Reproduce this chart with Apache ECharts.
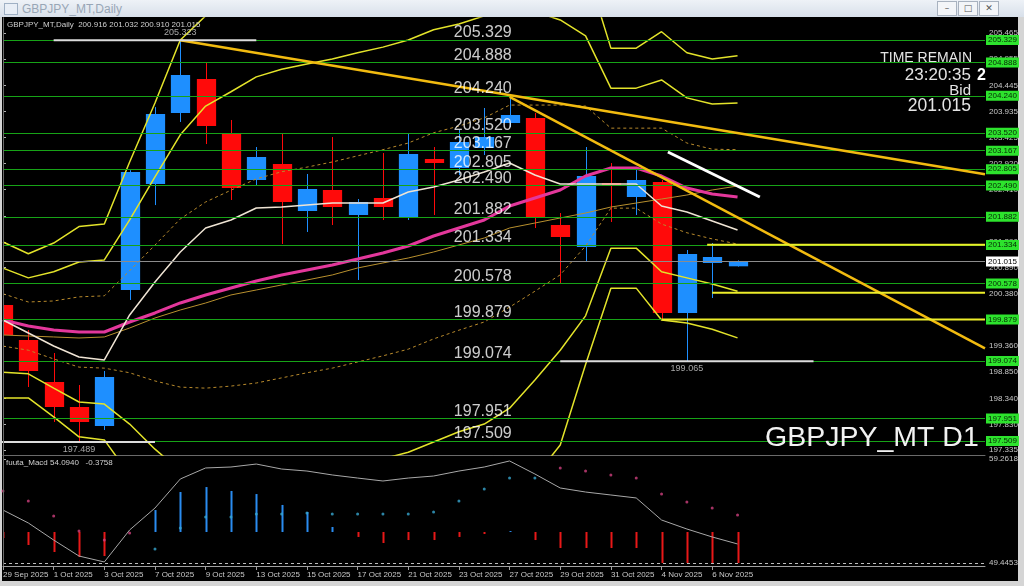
<!DOCTYPE html>
<html><head><meta charset="utf-8">
<script src="https://cdn.jsdelivr.net/npm/echarts@6/dist/echarts.min.js"></script>
<style>
html,body{margin:0;padding:0;background:#d5d5d5;overflow:hidden;width:1024px;height:586px}
#bar{position:absolute;left:0;top:0;width:1024px;height:17px;background:linear-gradient(#eef2f7,#d8e0ea);}
#bar span{position:absolute;left:22px;top:2px;font:12px 'Liberation Sans',Arial,sans-serif;color:#98a6b6}
#ico{position:absolute;left:4px;top:3px;width:12px;height:10px;border:1px solid #9fb0c4;background:#e8eef6}
.btn{position:absolute;top:1px;width:18px;height:13px;border:1px solid #a8b2bf;background:#f3f5f8;font:9px 'DejaVu Sans',sans-serif;color:#555;text-align:center;line-height:13px}
#blk{position:absolute;left:2px;top:17px;width:1016px;height:564px;background:#000}
#c{position:absolute;left:0;top:0;width:1024px;height:586px}
</style>
</head><body>
<div id="bar"><div id="ico"></div><span>GBPJPY_MT,Daily</span>
<div class="btn" style="left:937px">&#8211;</div><div class="btn" style="left:958px">&#9633;</div><div class="btn" style="left:979px">&#10005;</div></div>
<div id="blk"></div>
<div id="c"></div>
<script>
// ---------------- data ----------------
const dates = ['29 Sep 2025','30 Sep 2025','1 Oct 2025','2 Oct 2025','3 Oct 2025','6 Oct 2025','7 Oct 2025','8 Oct 2025','9 Oct 2025','10 Oct 2025','13 Oct 2025','14 Oct 2025','15 Oct 2025','16 Oct 2025','17 Oct 2025','20 Oct 2025','21 Oct 2025','22 Oct 2025','23 Oct 2025','24 Oct 2025','27 Oct 2025','28 Oct 2025','29 Oct 2025','30 Oct 2025','31 Oct 2025','3 Nov 2025','4 Nov 2025','5 Nov 2025','6 Nov 2025','7 Nov 2025'];
const openP  = [200.161,199.479,198.660,198.172,197.802,200.454,202.521,203.905,204.568,203.515,202.599,202.911,201.994,202.404,201.916,202.248,201.877,203.008,202.833,203.223,203.710,203.808,201.721,201.292,202.540,202.267,202.560,200.005,200.980,200.916];
const highP  = [200.454,199.674,199.225,198.601,198.874,202.790,204.020,205.323,204.880,203.769,203.242,203.496,202.716,203.437,202.228,203.125,203.515,203.242,203.574,204.003,204.198,203.905,201.955,203.242,202.930,202.794,202.599,201.234,201.370,201.032];
const lowP   = [199.340,198.562,197.880,197.489,197.724,200.259,202.110,203.730,203.300,202.209,202.482,201.351,201.585,201.721,200.649,201.819,201.819,201.916,202.696,203.086,203.632,201.663,200.590,201.000,201.780,201.916,199.888,199.065,200.298,200.910];
const closeP = [199.576,198.874,198.172,197.880,198.757,202.755,203.886,204.646,203.652,202.443,203.047,202.170,202.423,202.072,202.170,202.072,203.106,202.930,203.340,203.437,203.866,201.877,201.487,202.677,202.482,202.599,200.005,201.156,201.097,201.015];

const maMid   = [199.869,199.752,199.674,199.635,199.635,199.830,200.006,200.201,200.356,200.493,200.630,200.746,200.844,200.942,201.058,201.176,201.312,201.507,201.663,201.819,202.092,202.248,202.404,202.677,202.833,202.833,202.677,202.443,202.326,202.268];
const maFast  = [199.869,199.616,199.362,199.148,199.089,199.967,200.610,201.195,201.663,201.819,202.053,202.073,202.112,202.151,202.151,202.151,202.365,202.463,202.599,202.755,202.931,202.697,202.521,202.521,202.521,202.521,202.092,201.975,201.800,201.624];
const maSlow  = [199.576,199.557,199.538,199.518,199.538,199.713,199.908,200.064,200.200,200.357,200.454,200.552,200.649,200.747,200.883,200.981,201.078,201.195,201.332,201.468,201.663,201.760,201.858,201.955,202.072,202.150,202.228,202.306,202.404,202.482];
const bandUp1 = [200.38,200.22,200.24,200.32,200.34,200.83,201.33,201.84,202.17,202.40,202.62,202.76,202.85,202.95,203.07,203.19,203.32,203.52,203.65,203.81,204.06,204.06,204.06,204.04,203.61,203.61,203.61,203.32,203.20,203.19];
const bandDn1 = [199.36,199.28,199.11,198.95,198.93,198.84,198.68,198.56,198.54,198.58,198.64,198.74,198.84,198.93,199.05,199.17,199.30,199.50,199.67,199.83,200.12,200.43,200.75,201.31,202.05,202.05,201.74,201.57,201.45,201.35];
const bandUp2 = [200.88,200.69,200.81,201.00,201.04,201.82,202.66,203.48,204.04,204.32,204.61,204.76,204.86,204.96,205.08,205.19,205.33,205.53,205.64,205.80,206.03,205.88,205.72,205.41,204.39,204.39,204.55,204.20,204.08,204.10];
const bandDn2 = [198.85,198.82,198.54,198.27,198.23,197.84,197.35,196.93,196.73,196.67,196.65,196.73,196.83,196.92,197.04,197.16,197.29,197.49,197.69,197.84,198.15,198.70,199.28,199.95,201.27,201.27,200.81,200.69,200.57,200.43];
const bandUp3 = [201.39,201.16,201.37,201.69,201.74,202.95,204.10,205.33,205.80,206.23,206.60,206.77,206.87,206.97,207.08,207.20,207.34,207.53,207.63,207.79,208.00,207.69,207.38,206.77,205.17,205.17,205.49,205.08,204.96,205.02];
const bandDn3 = [198.35,198.35,197.98,197.59,197.53,196.85,196.03,195.29,194.91,194.76,194.66,194.72,194.82,194.92,195.03,195.15,195.29,195.48,195.70,195.85,196.18,196.81,197.43,199.00,200.49,200.49,199.87,199.81,199.69,199.52];

const levels = [205.329,204.888,204.240,203.520,203.167,202.805,202.490,201.882,201.334,200.578,199.879,199.074,197.951,197.509];
const bid = 201.015;
const priceTicks = [205.465,204.955,204.445,203.935,203.425,202.920,202.410,201.900,201.390,200.890,200.380,199.870,199.360,198.850,198.340,197.830,197.335];

// extreme markers: [price, fromIdx, toIdx, labelIdx, side]
const extremes = [[205.323,2,10,7,'top'],[197.489,-2,6,3,'bottom'],[199.065,22,32,27,'bottom']];
// trend lines: [[idx,price],[idx,price]]
const trend1 = [[7,205.323],[38.77,202.712]];
const trend2 = [[20,204.218],[38.77,199.315]];
// yellow horizontal support/resistance rays: [startIdx, price]
const rays = [[27.8,201.334],[28,200.400],[26,199.879]];
const arrowPts = [[26.25,203.145],[29.88,202.267]];

// MACD panel
const macdBase = 52.40;
const macdHist = [51.83,51.17,50.51,50.04,50.13,52.40,54.47,56.17,56.64,56.27,55.98,54.95,54.29,52.87,51.93,51.36,51.64,51.64,51.93,52.21,52.49,51.64,50.89,50.89,50.89,50.89,49.47,49.47,49.47,49.47];
const macdLine = [54.47,53.25,51.64,50.13,49.57,52.59,54.66,57.40,58.44,58.53,58.81,58.34,58.15,57.78,57.49,57.21,57.49,57.68,58.15,58.53,59.10,57.87,56.55,56.17,55.89,55.61,53.53,52.68,51.93,51.27];
const macdDots = [56.27,55.32,53.91,52.49,51.64,52.30,50.79,52.78,53.81,53.81,54.10,54.10,54.19,54.10,54.10,54.10,54.10,54.29,55.32,56.46,57.49,57.49,58.44,58.15,57.78,57.49,55.98,55.23,54.66,54.00];
const dotSide = 'ddddddUUUUUUUUUUUUUUUUdddddddd';
const macdTicks = [59.2618,49.4453];
const macdDash = 49.4453;

// ---------------- chart ----------------
const FONT = "'Liberation Sans', Arial, sans-serif";
const XMAX = 38.77;
const LABEL_IDX = 17.8;
const chart = echarts.init(document.getElementById('c'), null, {width:1024, height:586});

const idxTicks = dates.map((d,i)=>i).filter(i=>i%2===0);

function ls(arr, color, width, extra){
  return Object.assign({type:'line', xAxisIndex:0, yAxisIndex:0, data: arr.map((v,i)=>[i,v]), symbol:'none', silent:true, z:4,
    lineStyle:{color:color, width:width}}, extra||{});
}
function seg(pts, color, width, z){
  return {type:'line', xAxisIndex:0, yAxisIndex:0, data: pts, symbol:'none', silent:true, z:z||5, lineStyle:{color:color, width:width}};
}

const series = [];
// candles
series.push({type:'custom', xAxisIndex:0, yAxisIndex:0, clip:true, z:2, silent:true,
  data: dates.map((d,i)=>[i, openP[i], closeP[i], lowP[i], highP[i]]),
  renderItem: function(params, api){
    const i=api.value(0), o=api.value(1), c=api.value(2), l=api.value(3), h=api.value(4);
    const po=api.coord([i,o]), pc=api.coord([i,c]), pl=api.coord([i,l]), ph=api.coord([i,h]);
    const w=api.size([1,0])[0]*0.76;
    const col = c>=o ? '#1e8fff' : '#ff0a0a';
    const x=Math.round(po[0]);
    const top=Math.min(po[1],pc[1]); const bh=Math.max(Math.abs(po[1]-pc[1]),1.5);
    return {type:'group', children:[
      {type:'line', shape:{x1:x+0.5,y1:ph[1],x2:x+0.5,y2:pl[1]}, style:{stroke:col, lineWidth:1}},
      {type:'rect', shape:{x:x-w/2+0.5, y:top, width:w, height:bh}, style:{fill:col}}
    ]};
  }});
// green levels + bid line with axis tags
const tagLabel = {show:true, position:'end', distance:1, fontSize:8, fontFamily:FONT, padding:[1,2,1,2]};
series.push({type:'line', xAxisIndex:0, yAxisIndex:0, data:[], z:3, silent:true,
  markLine:{silent:true, symbol:['none','none'], animation:false,
    data: levels.map(v=>({yAxis:v, lineStyle:{color:'#17a317', width:1, type:'solid'},
      label:Object.assign({formatter:v.toFixed(3), backgroundColor:'#2de32d', color:'#062806'}, tagLabel)}))
      .concat([{yAxis:bid, lineStyle:{color:'#8c8c8c', width:1, type:'solid'},
      label:Object.assign({formatter:bid.toFixed(3), backgroundColor:'#ffffff', color:'#000'}, tagLabel)}])
  }});
// bands and MAs
series.push(ls(bandUp3,'#e3e32a',1.5));
series.push(ls(bandDn3,'#e3e32a',1.5));
series.push(ls(bandUp2,'#e3e32a',1.5));
series.push(ls(bandDn2,'#e3e32a',1.5));
series.push(ls(bandUp1,'#b88a2c',1,{lineStyle:{color:'#b88a2c', width:1, type:[3,3]}}));
series.push(ls(bandDn1,'#b88a2c',1,{lineStyle:{color:'#b88a2c', width:1, type:[3,3]}}));
series.push(ls(maSlow,'#b8902e',1));
series.push(ls(maMid,'#e3379b',3));
series.push(ls(maFast,'#efe4d4',1.5));
// trend lines
series.push(seg(trend1,'#f2bb10',2.5,5));
series.push(seg(trend2,'#f2bb10',2.5,5));
rays.forEach(r=>series.push(seg([r,[XMAX,r[1]]],'#eded2a',2,5)));
// extreme white lines
extremes.forEach(e=>series.push(seg([[e[1],e[0]],[e[2],e[0]]],'#dcdcdc',2,5)));
series.push({type:'scatter', xAxisIndex:0, yAxisIndex:0, symbolSize:0, silent:true, z:7,
  data: extremes.map(e=>({value:[e[3],e[0]], label:{position:e[4], distance:3}})),
  label:{show:true, formatter:p=>p.value[1].toFixed(3), color:'#d0d0d0', fontSize:9, fontFamily:FONT}});
// big level labels
series.push({type:'scatter', xAxisIndex:0, yAxisIndex:0, symbolSize:0, silent:true, z:8,
  data: levels.map(v=>[LABEL_IDX, v]),
  label:{show:true, position:[0,1], align:'left', verticalAlign:'bottom', formatter:p=>p.value[1].toFixed(3), color:'#ffffff', fontSize:16, fontFamily:FONT}});
// arrow
series.push({type:'line', xAxisIndex:0, yAxisIndex:0, data:[], silent:true, z:8,
  markLine:{silent:true, animation:false, symbol:['none','arrow'], symbolSize:[0,15], label:{show:false},
    lineStyle:{color:'#ffffff', width:3, type:'solid'},
    data:[[{coord:arrowPts[0]},{coord:arrowPts[1]}]]}});

// MACD panel
series.push({type:'custom', xAxisIndex:1, yAxisIndex:1, clip:true, z:3, silent:true,
  data: macdHist.map((v,i)=>[i,v]),
  renderItem:function(params, api){
    const i=api.value(0), v=api.value(1);
    if (Math.abs(v-macdBase)<0.01) return null;
    const a=api.coord([i,macdBase]), b=api.coord([i,v]);
    const x=Math.round(a[0])+0.5;
    return {type:'line', shape:{x1:x,y1:a[1],x2:x,y2:b[1]}, style:{stroke: v>macdBase?'#2a8cf0':'#e81818', lineWidth:2}};
  }});
series.push({type:'line', xAxisIndex:1, yAxisIndex:1, data: macdLine.map((v,i)=>[i,v]), symbol:'none', silent:true, z:4,
  lineStyle:{color:'#a8a8a8', width:1},
  markLine:{silent:true, symbol:['none','none'], animation:false, label:{show:false},
    data:[{yAxis:macdDash, lineStyle:{color:'#bdbdbd', width:1, type:[3,3]}}]}});
series.push({type:'scatter', xAxisIndex:1, yAxisIndex:1, symbolSize:3, silent:true, z:5,
  data: macdDots.map((v,i)=>({value:[i,v], itemStyle:{color: dotSide[i]==='U' ? '#37a6cf' : '#d0407e'}}))});

const axisTxt = {color:'#c8c8c8', fontSize:8, fontFamily:FONT};
const option = {
  animation:false,
  backgroundColor:'transparent',
  grid:[{left:3, right:39, top:18, height:437}, {left:3, right:39, top:458, height:108}],
  xAxis:[
    {type:'value', gridIndex:0, min:0, max:XMAX, axisLine:{show:true, onZero:false, lineStyle:{color:'#6a6a6a'}}, axisTick:{show:false}, axisLabel:{show:false}, splitLine:{show:false}},
    {type:'value', gridIndex:1, min:0, max:XMAX, axisLine:{show:true, onZero:false, lineStyle:{color:'#a0a0a0'}},
      axisTick:{show:true, customValues:idxTicks, length:4, lineStyle:{color:'#a0a0a0'}},
      axisLabel:Object.assign({customValues:idxTicks, formatter:v=>dates[v]||'', align:'left', margin:5}, axisTxt),
      splitLine:{show:false}}
  ],
  yAxis:[
    {type:'value', gridIndex:0, position:'right', min:197.2362, max:205.7580, axisLine:{show:true, lineStyle:{color:'#b4b4b4'}},
      axisTick:{show:true, customValues:priceTicks, length:3, lineStyle:{color:'#b4b4b4'}},
      axisLabel:Object.assign({customValues:priceTicks, formatter:v=>v.toFixed(3), margin:4}, axisTxt), splitLine:{show:false}},
    {type:'value', gridIndex:1, position:'right', min:49.19, max:59.38, axisLine:{show:true, lineStyle:{color:'#b4b4b4'}},
      axisTick:{show:true, customValues:macdTicks, length:3, lineStyle:{color:'#b4b4b4'}},
      axisLabel:Object.assign({customValues:macdTicks, formatter:v=>v.toFixed(4), margin:4}, axisTxt), splitLine:{show:false}}
  ],
  graphic:[
    {type:'line', shape:{x1:3.5,y1:18,x2:3.5,y2:566}, style:{stroke:'#6a6a6a', lineWidth:1}, z:50},
    {type:'text', x:7, y:21, z:60, style:{text:'GBPJPY_MT,Daily  200.916 201.032 200.910 201.015', fill:'#cfcfcf', font:'8px '+FONT}},
    {type:'text', x:6, y:459, z:60, style:{text:'fuuta_Macd 54.0940   -0.3758', fill:'#cfcfcf', font:'8px '+FONT}},
    {type:'text', x:972, y:51, z:60, style:{text:'TIME REMAIN', fill:'#e4e4e4', font:'14px '+FONT, align:'right', textAlign:'right'}},
    {type:'text', x:971, y:67, z:60, style:{text:'23:20:35', fill:'#e4e4e4', font:'17px '+FONT, align:'right', textAlign:'right'}},
    {type:'text', x:977, y:68, z:60, style:{text:'2', fill:'#ffffff', font:'bold 16px '+FONT}},
    {type:'text', x:971, y:83, z:60, style:{text:'Bid', fill:'#e4e4e4', font:'15px '+FONT, align:'right', textAlign:'right'}},
    {type:'text', x:971, y:97, z:60, style:{text:'201.015', fill:'#e4e4e4', font:'17.5px '+FONT, align:'right', textAlign:'right'}},
    {type:'text', x:765, y:424, z:60, style:{text:'GBPJPY_MT D1', fill:'#f2f2f2', font:'28.5px '+FONT}}
  ],
  series: series
};
chart.setOption(option);
</script>
</body></html>
